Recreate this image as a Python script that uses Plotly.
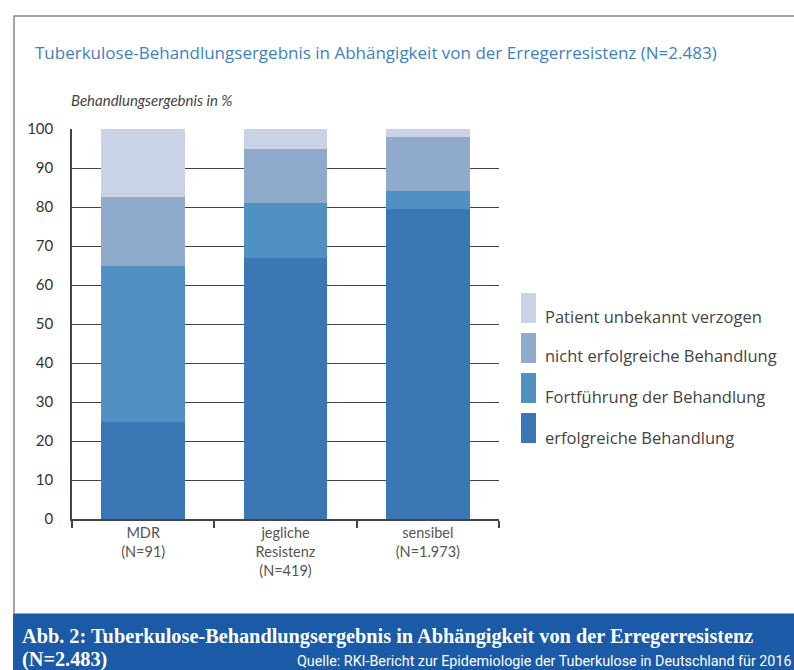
import plotly.graph_objects as go

categories = ["MDR<br>(N=91)", "jegliche<br>Resistenz<br>(N=419)", "sensibel<br>(N=1.973)"]
series_names = ["erfolgreiche Behandlung", "Fortführung der Behandlung",
                "nicht erfolgreiche Behandlung", "Patient unbekannt verzogen"]
erfolgreich = [25, 67, 79.5]
fortfuehrung = [40, 14, 4.5]
nicht_erfolgreich = [17.5, 14, 14]
unbekannt = [17.5, 5, 2]
colors = ["#3a77b4", "#5090c3", "#8faacb", "#c9d3e5"]
y_ticks = list(range(0, 101, 10))

title_text = "Tuberkulose-Behandlungsergebnis in Abhängigkeit von der Erregerresistenz (N=2.483)"
subtitle_text = "Behandlungsergebnis in %"
caption1 = "Abb. 2: Tuberkulose-Behandlungsergebnis in Abhängigkeit von der Erregerresistenz"
caption2 = "(N=2.483)"
source_text = "Quelle: RKI-Bericht zur Epidemiologie der Tuberkulose in Deutschland für 2016"

W_FIG, H_FIG = 794, 670
L, R, T, B = 72, 499, 129, 519
PW, PH = R - L, B - T


def px(x):
    return (x - L) / PW


def py(y):
    return (B - y) / PH


values = [erfolgreich, fortfuehrung, nicht_erfolgreich, unbekannt]
fig = go.Figure()
for name, vals, col in zip(series_names, values, colors):
    fig.add_trace(go.Bar(x=categories, y=vals, name=name, marker_color=col,
                         marker_line_width=0, showlegend=False))

fig.update_layout(
    barmode="stack",
    bargap=0.41,
    width=W_FIG, height=H_FIG,
    margin=dict(l=L, r=W_FIG - R, t=T, b=H_FIG - B),
    paper_bgcolor="white", plot_bgcolor="white",
    font=dict(family="Lato, Open Sans, sans-serif", color="#333"),
)
fig.update_yaxes(range=[0, 100], tickvals=y_ticks, showgrid=True, gridcolor="#444",
                 gridwidth=1.3, showline=True, linecolor="#444", linewidth=1.5,
                 ticks="", ticklabelstandoff=14, zeroline=False,
                 tickfont=dict(size=15, color="#333", family="Lato, sans-serif"))
fig.update_xaxes(showline=True, linecolor="#444", linewidth=1.5, ticks="outside",
                 tickson="boundaries", ticklen=7, tickwidth=1.5, tickcolor="#444",
                 tickfont=dict(size=14.5, color="#555", family="Lato, sans-serif"))

shapes = []
annotations = []
# outer border
shapes.append(dict(type="rect", xref="paper", yref="paper", x0=px(14), x1=px(800),
                   y0=py(614), y1=py(16), line=dict(color="#888", width=1.5),
                   fillcolor="rgba(0,0,0,0)", layer="below"))
# caption band
shapes.append(dict(type="rect", xref="paper", yref="paper", x0=px(13), x1=px(800),
                   y0=py(672), y1=py(614), line=dict(width=0), fillcolor="#1b5aa7"))

# legend
legend_rect_tops = [413, 373, 333, 293]
legend_text_y = [437, 396, 355, 316]
for name, col, top, ty in zip(series_names, colors, legend_rect_tops, legend_text_y):
    shapes.append(dict(type="rect", xref="paper", yref="paper", x0=px(521), x1=px(536),
                       y0=py(top + 30), y1=py(top), line=dict(width=0), fillcolor=col))
    annotations.append(dict(text=name, xref="paper", yref="paper", x=px(543), y=py(ty),
                            xanchor="left", yanchor="middle", showarrow=False,
                            font=dict(size=16.5, color="#444", family="Open Sans, sans-serif")))

annotations.append(dict(text=title_text, xref="paper", yref="paper", x=px(33), y=py(52),
                        xanchor="left", yanchor="middle", showarrow=False,
                        font=dict(size=17, color="#3f7fbf", family="Open Sans, sans-serif")))
annotations.append(dict(text="<i>" + subtitle_text + "</i>", xref="paper", yref="paper",
                        x=px(69), y=py(100), xanchor="left", yanchor="middle", showarrow=False,
                        font=dict(size=15, color="#444", family="Lato, sans-serif")))
annotations.append(dict(text="<b>" + caption1 + "</b>", xref="paper", yref="paper",
                        x=px(20), y=py(636), xanchor="left", yanchor="middle", showarrow=False,
                        font=dict(size=20.3, color="white", family="Liberation Serif, serif")))
annotations.append(dict(text="<b>" + caption2 + "</b>", xref="paper", yref="paper",
                        x=px(20), y=py(659), xanchor="left", yanchor="middle", showarrow=False,
                        font=dict(size=20.3, color="white", family="Liberation Serif, serif")))
annotations.append(dict(text=source_text, xref="paper", yref="paper",
                        x=px(793), y=py(661), xanchor="right", yanchor="middle", showarrow=False,
                        font=dict(size=14.3, color="white", family="Roboto, sans-serif")))

fig.update_layout(shapes=shapes, annotations=annotations)
fig.write_html("out.html", config={"displayModeBar": False},
               post_script="document.body.style.margin='0';document.body.style.overflow='hidden';")
